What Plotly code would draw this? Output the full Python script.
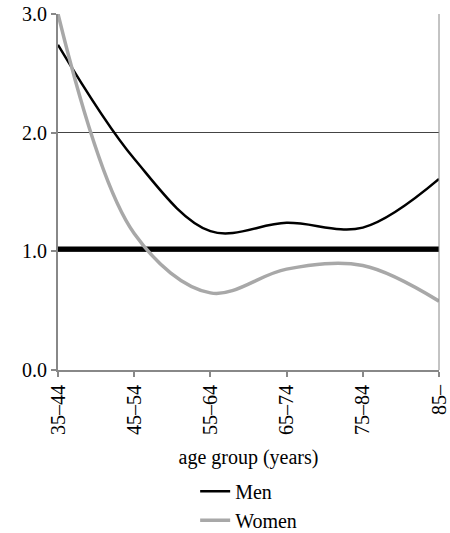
import plotly.graph_objects as go

categories = ["35–44", "45–54", "55–64", "65–74", "75–84", "85–"]
men = [2.74, 1.78, 1.17, 1.24, 1.20, 1.61]
women = [3.00, 1.15, 0.65, 0.85, 0.88, 0.58]
reference = [1.02, 1.02, 1.02, 1.02, 1.02, 1.02]
y_ticks = [0, 1, 2, 3]
y_ticklabels = ["0.0", "1.0", "2.0", "3.0"]

FONT = "Liberation Serif"
xidx = list(range(len(categories)))

fig = go.Figure()
fig.add_trace(go.Scatter(x=xidx, y=reference, mode="lines", showlegend=False,
                         line=dict(color="black", width=5), hoverinfo="skip"))
fig.add_trace(go.Scatter(x=xidx, y=men, mode="lines", name="Men",
                         line=dict(color="black", width=2.5, shape="spline", smoothing=1)))
fig.add_trace(go.Scatter(x=xidx, y=women, mode="lines", name="Women",
                         line=dict(color="#a8a8a8", width=3.5, shape="spline", smoothing=1)))

fig.update_layout(
    width=450, height=533,
    margin=dict(l=58, r=11, t=14, b=163, autoexpand=False),
    paper_bgcolor="white", plot_bgcolor="white",
    font=dict(family=FONT, size=20, color="black"),
    showlegend=True,
    legend=dict(orientation="v", x=0.36, xanchor="left", xref="paper",
                y=-0.286, yanchor="top", yref="paper",
                font=dict(family=FONT, size=20), bgcolor="rgba(0,0,0,0)",
                itemwidth=30),
    xaxis=dict(
        range=[0, 5], tickmode="array", tickvals=xidx, ticktext=categories,
        tickangle=-90, showgrid=False, zeroline=False,
        showline=True, linecolor="#888888", linewidth=2,
        ticks="outside", ticklen=5, tickwidth=2, tickcolor="#888888",
        title=dict(text="age group (years)", font=dict(family=FONT, size=20), standoff=16),
        tickfont=dict(family=FONT, size=20), automargin=False,
    ),
    yaxis=dict(
        range=[0, 3], tickmode="array", tickvals=y_ticks, ticktext=y_ticklabels,
        showgrid=True, gridcolor="#444444", gridwidth=1, zeroline=False,
        showline=True, linecolor="#888888", linewidth=2,
        ticks="outside", ticklen=5, tickwidth=2, tickcolor="#888888",
        tickfont=dict(family=FONT, size=20), automargin=False,
    ),
    shapes=[dict(type="line", xref="paper", yref="paper", x0=1, x1=1, y0=0, y1=1,
                 line=dict(color="#888888", width=1))],
)

fig.write_html("out.html")
